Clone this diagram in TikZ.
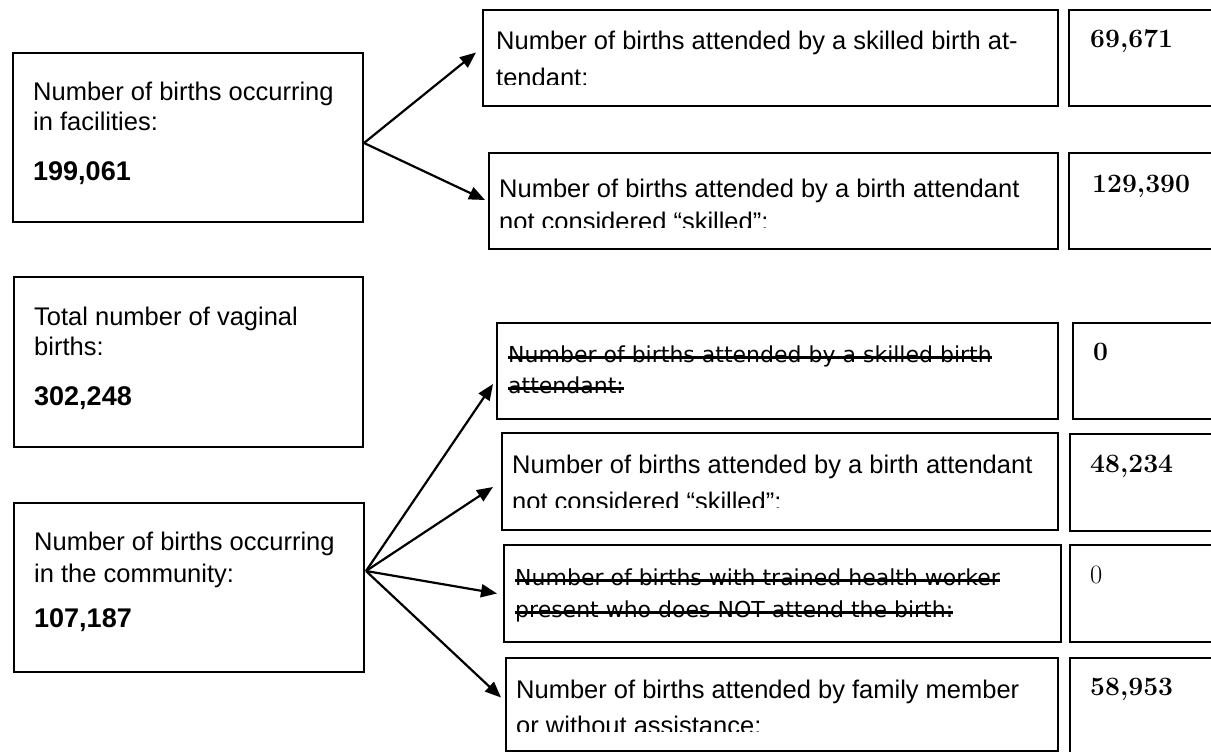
\documentclass[tikz,border=0pt]{standalone}
\usepackage{fontspec}
\newfontfamily\labelfont{Liberation Sans}
\newfontfamily\strikefont{DejaVu Sans}
\usetikzlibrary{arrows.meta}

\begin{document}
\begin{tikzpicture}[x=1pt,y=-1pt,
  box/.style={draw, line width=2pt, inner sep=0pt, anchor=north west},
  lefttxt/.style={font=\labelfont\fontsize{25.5}{30}\selectfont, inner sep=0pt, anchor=base west},
  leftnum/.style={font=\labelfont\bfseries\fontsize{27}{30}\selectfont, inner sep=0pt, anchor=base west},
  righttxt/.style={font=\labelfont\fontsize{25.5}{30}\selectfont, inner sep=0pt, anchor=base west},
  striketxt/.style={font=\strikefont\fontsize{22}{26}\selectfont, inner sep=0pt, anchor=base west},
  valnum/.style={font=\bfseries\fontsize{26.5}{30}\selectfont, inner sep=0pt, anchor=base west},
  valplain/.style={font=\fontsize{26.5}{30}\selectfont, inner sep=0pt, anchor=base west},
  strike/.style={line width=3pt},
  arr/.style={line width=2.2pt, -{Triangle[length=16pt,width=13pt]}}
]
\useasboundingbox (0,0) rectangle (1211,752);

% left column
\node[box, minimum width=350pt, minimum height=169pt] (fac) at (12,52) {};
\node[box, minimum width=349pt, minimum height=170pt] (tot) at (13,276) {};
\node[box, minimum width=350pt, minimum height=169pt] (com) at (13,502) {};

\node[lefttxt] (fac1) at (33,100) {Number of births occurring};
\node[lefttxt] (fac2) at (33,130) {in facilities:};
\node[leftnum] (facn) at (33,180) {199,061};

\node[lefttxt] (tot1) at (34,325) {Total number of vaginal};
\node[lefttxt] (tot2) at (34,355) {births:};
\node[leftnum] (totn) at (34,405) {302,248};

\node[lefttxt] (com1) at (34,550) {Number of births occurring};
\node[lefttxt] (com2) at (34,582) {in the community:};
\node[leftnum] (comn) at (34,627) {107,187};

% category boxes
\node[box, minimum width=575pt, minimum height=96pt] (sk1) at (482,9) {};
\node[box, minimum width=569pt, minimum height=96pt] (sk2) at (488,152) {};
\node[box, minimum width=561pt, minimum height=96pt] (ca) at (496,322) {};
\node[box, minimum width=556pt, minimum height=97pt] (cb) at (501,432) {};
\node[box, minimum width=557pt, minimum height=97pt] (cc) at (503,544) {};
\node[box, minimum width=552pt, minimum height=93pt] (cd) at (505,657) {};

% value boxes (running off the right edge)
\node[box, minimum width=200pt, minimum height=96pt] (v1) at (1068,9) {};
\node[box, minimum width=200pt, minimum height=96pt] (v2) at (1068,152) {};
\node[box, minimum width=200pt, minimum height=96pt] (va) at (1072,322) {};
\node[box, minimum width=200pt, minimum height=97pt] (vb) at (1069,433) {};
\node[box, minimum width=200pt, minimum height=97pt] (vc) at (1069,544) {};
\node[box, minimum width=200pt, minimum height=110pt] (vd) at (1069,657) {};

% category texts, cut off at the lower line
\begin{scope}
  \clip (482,9) rectangle (1057,85);
  \node[righttxt] (sk1a) at (496,50) {Number of births attended by a skilled birth at-};
  \node[righttxt] (sk1b) at (496,87) {tendant:};
\end{scope}
\begin{scope}
  \clip (488,152) rectangle (1057,227);
  \node[righttxt] (sk2a) at (499,197) {Number of births attended by a birth attendant};
  \node[righttxt] (sk2b) at (499,230) {not considered “skilled”:};
\end{scope}
\begin{scope}
  \clip (501,432) rectangle (1057,507);
  \node[righttxt] (cba) at (512,473) {Number of births attended by a birth attendant};
  \node[righttxt] (cbb) at (512,510) {not considered “skilled”:};
\end{scope}
\begin{scope}
  \clip (505,657) rectangle (1057,731);
  \node[righttxt] (cda) at (516,698) {Number of births attended by family member};
  \node[righttxt] (cdb) at (516,734) {or without assistance:};
\end{scope}

% struck-out categories
\node[striketxt] (caa) at (508,362) {Number of births attended by a skilled birth};
\node[striketxt] (cab) at (508,393) {attendant:};
\node[striketxt] (cca) at (515,585) {Number of births with trained health worker};
\node[striketxt] (ccb) at (515,617) {present who does NOT attend the birth:};
\foreach \n in {caa,cab,cca,ccb}
  \draw[strike] ([yshift=4.5pt]\n.base west) -- ([yshift=4.5pt]\n.base east);

% values
\node[valnum] (v1n) at (1090,48) {69,671};
\node[valnum] (v2n) at (1092,192) {129,390};
\node[valnum] (van) at (1093,360) {0};
\node[valnum] (vbn) at (1090,472) {48,234};
\node[valplain] (vcn) at (1090,583) {0};
\node[valnum] (vdn) at (1090,695) {58,953};

% connectors
\coordinate (f1) at ([yshift=-5.5pt]fac.east);
\coordinate (f2) at ([xshift=1pt,yshift=16.5pt]com.east);
\draw[arr] (f1) -- ([xshift=-6pt,yshift=5.5pt]sk1.west);
\draw[arr] (f1) -- ([xshift=-3pt,yshift=1pt]sk2.west);
\draw[arr] (f2) -- ([xshift=-3pt,yshift=-13pt]ca.west);
\draw[arr] (f2) -- ([xshift=-8pt,yshift=-5.5pt]cb.west);
\draw[arr] (f2) -- ([xshift=-6pt]cc.west);
\draw[arr] (f2) -- ([xshift=-4pt,yshift=7pt]cd.west);
\end{tikzpicture}
\end{document}
